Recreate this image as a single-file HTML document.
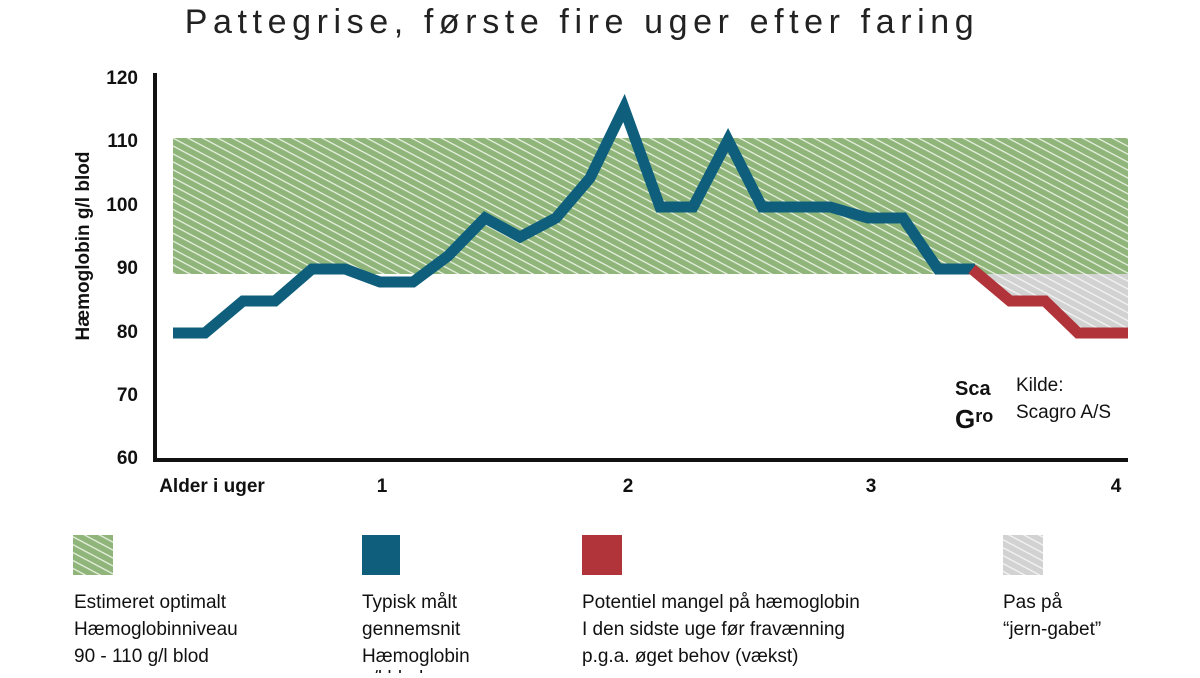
<!DOCTYPE html>
<html><head><meta charset="utf-8"><style>
body{margin:0;background:#fff;width:1200px;height:673px;overflow:hidden;font-family:"Liberation Sans",sans-serif}
</style></head><body>
<svg width="1200" height="673" viewBox="0 0 1200 673" xmlns="http://www.w3.org/2000/svg">
<defs>
<pattern id="hg" width="14" height="7" patternUnits="userSpaceOnUse" patternTransform="rotate(28)">
<rect width="14" height="7" fill="#8fb57a"/><rect y="5" width="14" height="1.3" fill="#e8f0e0"/>
</pattern>
<pattern id="hy" width="14" height="7" patternUnits="userSpaceOnUse" patternTransform="rotate(28)">
<rect width="14" height="7" fill="#d2d2d2"/><rect y="5" width="14" height="1.3" fill="#f4f4f4"/>
</pattern>
</defs>
<text x="582" y="33" text-anchor="middle" font-size="34" fill="#222" letter-spacing="5.6">Pattegrise, første fire uger efter faring</text>
<rect x="173" y="138" width="955" height="136" fill="url(#hg)"/>
<polygon points="975,274 1128,274 1128,333 1078,333 1045,301 1010,301" fill="url(#hy)"/>
<g font-size="19" font-weight="bold" fill="#111" text-anchor="end">
<text x="138" y="84">120</text><text x="138" y="147">110</text><text x="138" y="211">100</text>
<text x="138" y="274">90</text><text x="138" y="338">80</text><text x="138" y="401">70</text><text x="138" y="464">60</text>
</g>
<text transform="translate(89,246) rotate(-90)" text-anchor="middle" font-size="19" font-weight="bold" fill="#111">Hæmoglobin g/l blod</text>
<path d="M155,73 V460 H1128" fill="none" stroke="#111" stroke-width="4"/>
<g font-size="19" font-weight="bold" fill="#111" text-anchor="middle">
<text x="212" y="492">Alder i uger</text><text x="382" y="492">1</text><text x="628" y="492">2</text><text x="871" y="492">3</text><text x="1116" y="492">4</text>
</g>
<polyline points="173,333 205,333 243,301 275,301 312,269 345,269 380,282 413,282 448,256 485,218 520,237 556,218 590,178 624,108 660,207 693,207 728,140 762,207 800,207 830,207 868,218 903,218 938,269 975,269" fill="none" stroke="#0f5f7c" stroke-width="11" stroke-linejoin="miter"/>
<polyline points="972,269 1010,301 1045,301 1078,333 1128,333" fill="none" stroke="#b0343a" stroke-width="11"/>
<text x="955" y="395" font-size="20" font-weight="bold" fill="#111">Sca</text>
<text x="955" y="428" font-size="26" font-weight="bold" fill="#111">G<tspan font-size="18" dy="-6">ro</tspan></text>
<text x="1016" y="391" font-size="19" fill="#111">Kilde:</text>
<text x="1016" y="418" font-size="19" fill="#111">Scagro A/S</text>
<rect x="73" y="535" width="40" height="40" fill="url(#hg)"/>
<rect x="362" y="535" width="38" height="40" fill="#0f5f7c"/>
<rect x="582" y="535" width="40" height="40" fill="#b0343a"/>
<rect x="1003" y="535" width="40" height="40" fill="url(#hy)"/>
<g font-size="19" fill="#111">
<text x="74" y="608">Estimeret optimalt</text><text x="74" y="635">Hæmoglobinniveau</text><text x="74" y="662">90 - 110 g/l blod</text>
<text x="362" y="608">Typisk målt</text><text x="362" y="635">gennemsnit</text><text x="362" y="662">Hæmoglobin</text><text x="362" y="684">g/l blod</text>
<text x="582" y="608">Potentiel mangel på hæmoglobin</text><text x="582" y="635">I den sidste uge før fravænning</text><text x="582" y="662">p.g.a. øget behov (vækst)</text>
<text x="1003" y="608">Pas på</text><text x="1003" y="635">“jern-gabet”</text>
</g>
</svg>
</body></html>
